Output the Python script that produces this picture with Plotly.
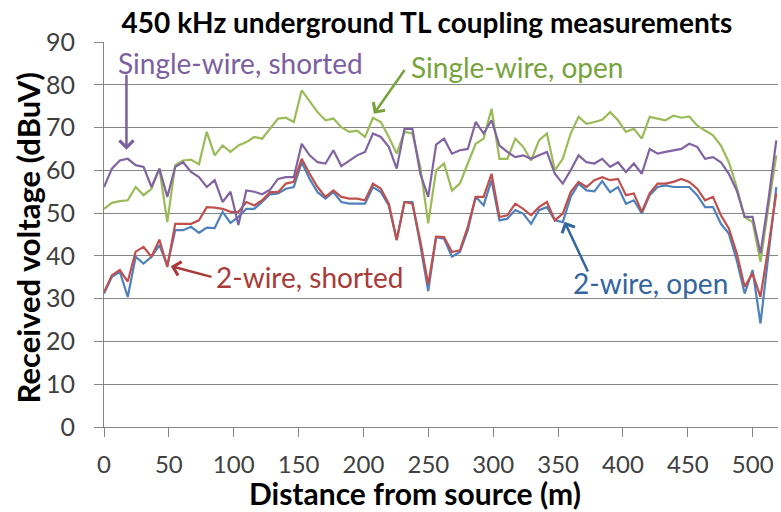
import plotly.graph_objects as go

# Distance from source (m) - measurements every 20 ft
distance_m = [0.0, 6.1, 12.2, 18.3, 24.4, 30.5, 36.6, 42.7, 48.8, 54.9,
              61.0, 67.1, 73.2, 79.2, 85.3, 91.4, 97.5, 103.6, 109.7, 115.8,
              121.9, 128.0, 134.1, 140.2, 146.3, 152.4, 158.5, 164.6, 170.7, 176.8,
              182.9, 189.0, 195.1, 201.2, 207.3, 213.4, 219.5, 225.6, 231.6, 237.7,
              243.8, 249.9, 256.0, 262.1, 268.2, 274.3, 280.4, 286.5, 292.6, 298.7,
              304.8, 310.9, 317.0, 323.1, 329.2, 335.3, 341.4, 347.5, 353.6, 359.7,
              365.8, 371.9, 378.0, 384.0, 390.1, 396.2, 402.3, 408.4, 414.5, 420.6,
              426.7, 432.8, 438.9, 445.0, 451.1, 457.2, 463.3, 469.4, 475.5, 481.6,
              487.7, 493.8, 499.9, 506.0, 512.1, 518.2]

two_wire_open = [31.2, 35.1, 36.3, 30.4, 39.8, 38.2, 39.8, 42.5, 37.8, 46.0,
                 46.0, 46.8, 45.4, 46.6, 46.5, 50.3, 47.7, 49.1, 51.0, 51.0,
                 52.6, 54.4, 54.6, 55.7, 56.1, 61.9, 58.0, 54.9, 53.4, 54.9,
                 52.6, 52.2, 52.2, 52.2, 56.1, 54.9, 51.8, 43.7, 52.6, 52.6,
                 42.5, 31.8, 44.4, 44.0, 39.8, 40.9, 46.0, 53.8, 51.8, 57.7,
                 48.3, 48.7, 50.7, 49.9, 47.5, 50.7, 51.4, 48.3, 47.9, 53.8,
                 56.9, 55.3, 55.1, 57.5, 54.9, 56.1, 52.2, 53.0, 49.9, 54.2,
                 56.1, 56.5, 56.1, 56.1, 56.1, 54.2, 51.4, 51.4, 47.5, 45.2,
                 39.0, 31.2, 36.7, 24.2, 39.8, 56.1]

two_wire_shorted = [31.5, 35.5, 36.7, 34.0, 41.0, 42.1, 39.8, 43.8, 37.4, 47.5,
                    47.5, 47.5, 48.3, 51.4, 51.3, 51.0, 50.3, 50.3, 52.6, 51.8,
                    53.0, 54.9, 54.9, 56.9, 57.3, 62.7, 59.2, 56.1, 53.8, 55.3,
                    53.8, 53.4, 53.4, 53.0, 56.9, 55.7, 52.2, 43.7, 52.6, 52.2,
                    43.5, 33.3, 44.5, 44.4, 40.9, 41.3, 46.8, 53.8, 53.8, 59.2,
                    49.1, 49.5, 52.2, 51.0, 49.5, 51.4, 52.6, 48.3, 49.9, 54.9,
                    57.3, 56.1, 57.7, 58.4, 57.7, 58.0, 54.2, 54.6, 50.3, 54.6,
                    56.9, 56.9, 57.3, 58.0, 57.3, 55.7, 53.0, 53.8, 49.5, 46.4,
                    40.6, 32.8, 35.9, 30.4, 42.1, 54.6]

single_wire_open = [51.0, 52.4, 52.8, 53.0, 56.1, 54.2, 55.7, 60.4, 47.9, 61.2,
                    62.3, 62.5, 61.4, 69.0, 63.5, 65.8, 64.3, 65.8, 66.6, 67.8,
                    67.4, 69.7, 72.1, 72.3, 71.3, 78.7, 76.0, 73.6, 71.7, 72.1,
                    70.1, 69.0, 69.3, 67.8, 72.3, 71.3, 67.8, 63.9, 69.0, 68.6,
                    60.8, 47.6, 60.0, 61.6, 55.3, 56.9, 61.6, 66.2, 67.4, 74.4,
                    62.7, 62.7, 67.4, 65.5, 62.3, 67.0, 68.6, 60.0, 62.7, 68.6,
                    72.5, 70.9, 71.3, 71.8, 73.6, 71.7, 69.0, 69.7, 67.4, 72.5,
                    72.1, 71.7, 72.8, 72.3, 72.6, 70.5, 69.3, 68.2, 65.8, 61.9,
                    56.1, 49.1, 47.9, 38.6, 51.4, 63.5]

single_wire_shorted = [56.1, 60.4, 62.3, 62.7, 61.2, 60.8, 56.1, 60.4, 53.8, 60.8,
                       61.9, 59.6, 58.4, 56.1, 57.7, 52.6, 55.0, 47.2, 55.3, 55.0,
                       54.4, 55.5, 58.0, 58.4, 58.4, 66.2, 63.5, 61.9, 61.6, 64.7,
                       61.0, 62.3, 63.5, 64.3, 68.6, 67.8, 65.5, 60.4, 69.7, 69.7,
                       59.2, 53.8, 66.0, 67.4, 63.9, 64.7, 65.0, 71.3, 68.6, 71.7,
                       65.8, 64.3, 63.1, 63.5, 62.7, 63.5, 64.3, 59.2, 56.9, 60.0,
                       63.5, 61.9, 61.6, 62.7, 60.8, 61.9, 59.6, 61.6, 59.2, 65.0,
                       63.9, 64.3, 64.7, 65.0, 66.2, 65.5, 62.7, 63.1, 61.9, 59.2,
                       55.3, 49.1, 49.1, 40.6, 53.0, 67.0]

x_ticks = [0, 50, 100, 150, 200, 250, 300, 350, 400, 450, 500]
y_ticks = [0, 10, 20, 30, 40, 50, 60, 70, 80, 90]

series = [
    ("2-wire, open", two_wire_open, "#4F81BD"),
    ("2-wire, shorted", two_wire_shorted, "#C0504D"),
    ("Single-wire, open", single_wire_open, "#9BBB59"),
    ("Single-wire, shorted", single_wire_shorted, "#8064A2"),
]

FONT = "Lato"

fig = go.Figure()
for name, vals, color in series:
    fig.add_trace(go.Scatter(x=distance_m, y=vals, mode="lines", name=name,
                             line=dict(color=color, width=2.2)))

labels = [
    ("Single-wire, shorted", 105.5, 85.0, "#7C5F9F"),
    ("Single-wire, open", 318.6, 84.1, "#77A33D"),
    ("2-wire, shorted", 158.7, 35.0, "#A83B38"),
    ("2-wire, open", 421.4, 33.6, "#33659F"),
]
for text, x, y, color in labels:
    fig.add_annotation(x=x, y=y, text=text, showarrow=False,
                       font=dict(family=FONT, size=28, color=color),
                       xanchor="center", yanchor="middle")

arrows = [
    (17.3, 64.8, 17.3, 82.7, "#7C5F9F"),
    (208.0, 73.2, 232.5, 83.8, "#77A33D"),
    (51.5, 37.6, 84.0, 35.0, "#A83B38"),
    (355.0, 48.0, 373.5, 36.0, "#33659F"),
]
for x, y, ax, ay, color in arrows:
    fig.add_annotation(x=x, y=y, ax=ax, ay=ay, axref="x", ayref="y",
                       text="", showarrow=True, arrowhead=4, arrowsize=1.1,
                       arrowwidth=2.5, arrowcolor=color)

# axis titles
fig.add_annotation(xref="paper", yref="paper", x=0.4607, y=-0.171,
                   text="<b>Distance from source (m)</b>", showarrow=False,
                   font=dict(family=FONT, size=30, color="black"),
                   xanchor="center", yanchor="middle")
fig.add_annotation(xref="paper", yref="paper", x=-0.1135, y=0.491,
                   text="<b>Received voltage (dBuV)</b>", showarrow=False,
                   textangle=-90,
                   font=dict(family=FONT, size=31, color="black"),
                   xanchor="center", yanchor="middle")

fig.update_layout(
    width=781, height=512,
    margin=dict(l=104, r=3, t=42, b=85, autoexpand=False),
    paper_bgcolor="white", plot_bgcolor="white",
    showlegend=False,
    title=dict(text="<b>450 kHz underground TL coupling measurements</b>",
               x=0.5467, xanchor="center", y=1 - 23 / 512, yanchor="middle",
               font=dict(family=FONT, size=28, color="black")),
    font=dict(family=FONT),
)
fig.update_xaxes(range=[0, 519.5], tickvals=x_ticks, ticks="outside", ticklen=9,
                 tickcolor="#868686", showline=True, linecolor="#868686",
                 linewidth=1, showgrid=False, zeroline=False,
                 ticklabelstandoff=7,
                 tickfont=dict(family=FONT, size=24, color="#404040"))
fig.update_yaxes(range=[0, 90], tickvals=y_ticks, ticks="outside", ticklen=9,
                 tickcolor="#868686", showline=True, linecolor="#868686",
                 linewidth=1, showgrid=True, gridcolor="#868686", gridwidth=1,
                 zeroline=False, ticklabelstandoff=14,
                 tickfont=dict(family=FONT, size=25, color="#404040"))

# remove the browser's default 8px page margin so the figure fills the window
fig.write_html("out.html", config={"displayModeBar": False},
               post_script="document.body.style.margin='0px';")
